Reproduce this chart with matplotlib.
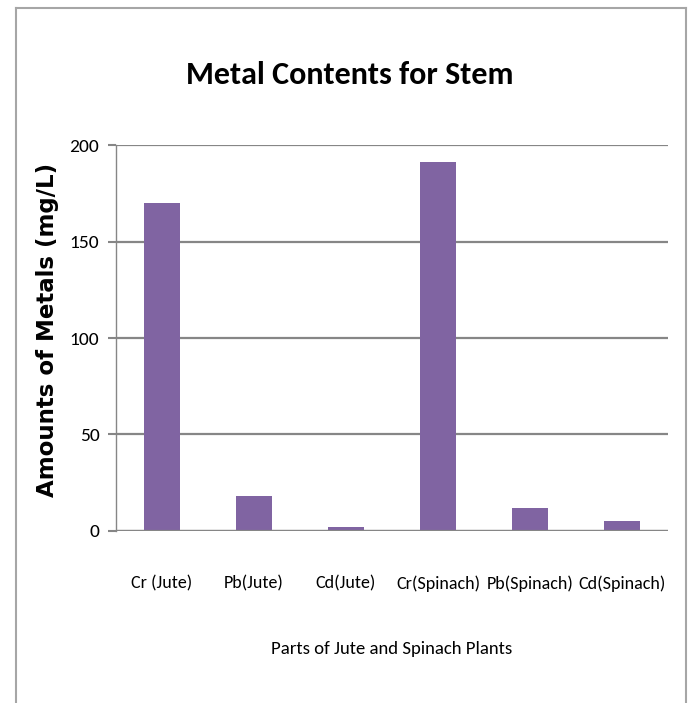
import matplotlib
matplotlib.use("Agg")
import matplotlib.pyplot as plt
from matplotlib.lines import Line2D
import numpy as np

# Calibri-like face, with narrow fallbacks
plt.rcParams["font.family"] = ["Carlito", "Archivo Narrow", "DejaVu Sans"]

# data
categories = ["Cr (Jute)", "Pb(Jute)", "Cd(Jute)", "Cr(Spinach)", "Pb(Spinach)", "Cd(Spinach)"]
values = [170, 18, 2, 191, 12, 5]
yticks = [0, 50, 100, 150, 200]

bar_color = "#8064A2"
grid_color = "#868686"

fig = plt.figure(figsize=(6.89, 7.03), dpi=100)
ax = fig.add_axes([0.1684, 0.2447, 0.801, 0.549])

x = np.arange(len(categories))
ax.bar(x, values, width=0.39, color=bar_color, zorder=3)

ax.set_xlim(-0.5, len(categories) - 0.5)
ax.set_ylim(0, 200)
ax.set_yticks(yticks)
ax.set_yticklabels([str(v) for v in yticks], fontsize=14)
ax.set_xticks(x)
ax.set_xticklabels(categories, fontsize=13)
ax.tick_params(axis="x", length=0, pad=32)
ax.tick_params(axis="y", length=6, width=1.5, color=grid_color, pad=6)

ax.grid(axis="y", color=grid_color, linewidth=1.6, zorder=0)
for s in ["top", "right", "bottom"]:
    ax.spines[s].set_visible(False)
ax.spines["left"].set_color(grid_color)
ax.spines["left"].set_linewidth(1.0)
ax.axhline(0, color=grid_color, linewidth=1.6, zorder=4)

ax.set_ylabel("Amounts of Metals (mg/L)", fontsize=16.5, fontweight="bold",
              family="DejaVu Sans")
ax.yaxis.set_label_coords(-0.104, 0.52)
ax.set_xlabel("Parts of Jute and Spinach Plants", fontsize=13.5, labelpad=35)

fig.text(0.508, 0.894, "Metal Contents for Stem", fontsize=23, ha="center", va="center",
         fontweight="bold")

# outer frame (open at the bottom)
frame = "#a6a6a6"
fig.add_artist(Line2D([16 / 689, 16 / 689], [0, 1 - 8 / 703], color=frame, lw=1.5))
fig.add_artist(Line2D([16 / 689, 686 / 689], [1 - 8 / 703, 1 - 8 / 703], color=frame, lw=1.5))
fig.add_artist(Line2D([686 / 689, 686 / 689], [0, 1 - 8 / 703], color=frame, lw=1.5))

fig.savefig("out.png", dpi=100)
